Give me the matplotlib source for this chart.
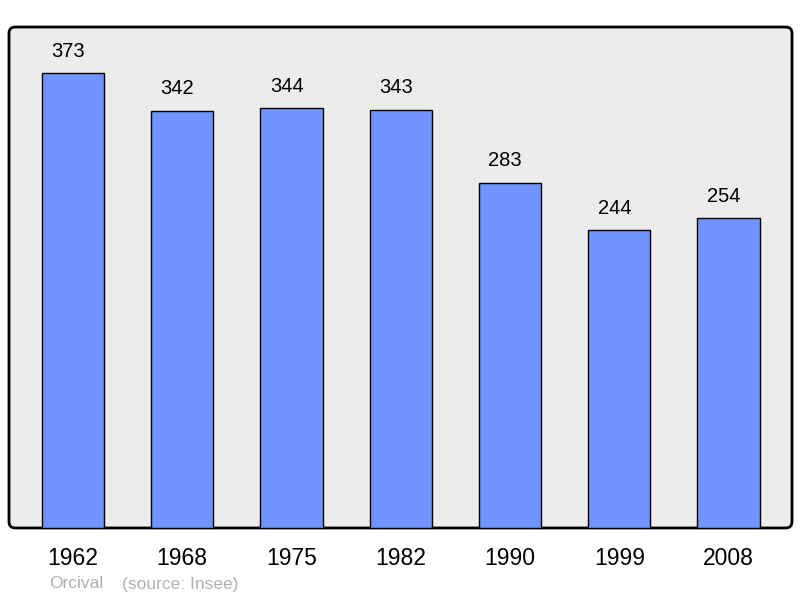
import matplotlib
matplotlib.use("Agg")
import matplotlib.pyplot as plt
from matplotlib.patches import FancyBboxPatch

years = ["1962", "1968", "1975", "1982", "1990", "1999", "2008"]
population = [373, 342, 344, 343, 283, 244, 254]

plt.rcParams['font.family'] = ['Liberation Sans', 'DejaVu Sans']

fig = plt.figure(figsize=(8, 5.98), dpi=100)
ax = fig.add_axes([0.01125, 0.1171, 0.97875, 0.8377])

# background frame with rounded corners
frame = FancyBboxPatch((0, 0), 1, 1, boxstyle="round,pad=0,rounding_size=0.008",
                       transform=ax.transAxes, facecolor="#ececec", edgecolor="black",
                       linewidth=2, clip_on=False, zorder=0, mutation_aspect=783/501)
ax.add_patch(frame)
ax.set_facecolor("none")
for s in ax.spines.values():
    s.set_visible(False)

x = range(len(years))
bars = ax.bar(x, population, width=0.57, color="#7094ff", edgecolor="black", linewidth=1, zorder=2)

# value labels sit a little left of the bar centre, as in the original
for xi, v in zip(x, population):
    ax.annotate(str(v), (xi, v), xytext=(-3.5, 9), textcoords="offset points",
                ha="center", va="bottom", fontsize=14.5)

ax.set_xlim(-0.585, 6.58)
ax.set_ylim(0, 410.7)
ax.set_yticks([])
ax.set_xticks(list(x))
ax.set_xticklabels(years, fontsize=16.5)
ax.tick_params(axis="x", length=0, pad=14)

fig.text(49/800, 1 - 584/598, "Orcival", fontsize=12.5, color="#b0b0b0", va="center")
fig.text(122/800, 1 - 584/598, "(source: Insee)", fontsize=12.5, color="#b0b0b0", va="center")

plt.savefig("out.png", dpi=100)
